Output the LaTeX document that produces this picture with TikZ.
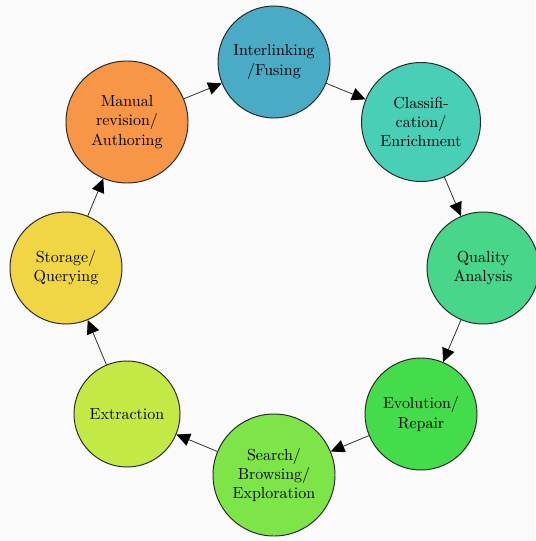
\documentclass[tikz,border=0pt]{standalone}
\usetikzlibrary{arrows.meta}
\definecolor{bgc}{HTML}{FAFAFA}
\definecolor{cInter}{HTML}{4AABC6}
\definecolor{cClass}{HTML}{48CFB5}
\definecolor{cQual}{HTML}{48D68A}
\definecolor{cEvol}{HTML}{44DC4A}
\definecolor{cSearch}{HTML}{7EE548}
\definecolor{cExtr}{HTML}{C3EA44}
\definecolor{cStor}{HTML}{F0D645}
\definecolor{cMan}{HTML}{F79646}
\tikzset{
  stage/.style={circle, draw=black!85, line width=0.6pt, align=center, inner sep=0pt, font=\normalsize},
  flow/.style={draw=black!80, line width=0.5pt, -{Triangle[length=8.5pt,width=8pt,color=black]}}
}
\begin{document}
\begin{tikzpicture}[x=0.625pt,y=-0.625pt]
\fill[bgc] (0,0) rectangle (535,541);
\useasboundingbox (0,0) rectangle (535,541);
\node[stage, fill=cInter, minimum size=112*0.625pt] (inter) at (274,62) {Interlinking\\/Fusing};
\node[stage, fill=cClass, minimum size=119*0.625pt] (class) at (421,122) {Classifi-\\cation/\\Enrichment};
\node[stage, fill=cQual, minimum size=112*0.625pt] (qual) at (483,268) {Quality\\Analysis};
\node[stage, fill=cEvol, minimum size=112*0.625pt] (evol) at (421,414) {Evolution/\\Repair};
\node[stage, fill=cSearch, minimum size=122*0.625pt] (search) at (274,475) {Search/\\Browsing/\\Exploration};
\node[stage, fill=cExtr, minimum size=106*0.625pt] (extr) at (127,414) {Extraction};
\node[stage, fill=cStor, minimum size=112*0.625pt] (stor) at (66,268) {Storage/\\Querying};
\node[stage, fill=cMan, minimum size=122*0.625pt] (man) at (127,122) {Manual\\revision/\\Authoring};
\draw[flow] (man) -- (inter);
\draw[flow] (inter) -- (class);
\draw[flow] (class) -- (qual);
\draw[flow] (qual) -- (evol);
\draw[flow] (evol) -- (search);
\draw[flow] (search) -- (extr);
\draw[flow] (extr) -- (stor);
\draw[flow] (stor) -- (man);
\end{tikzpicture}
\end{document}
